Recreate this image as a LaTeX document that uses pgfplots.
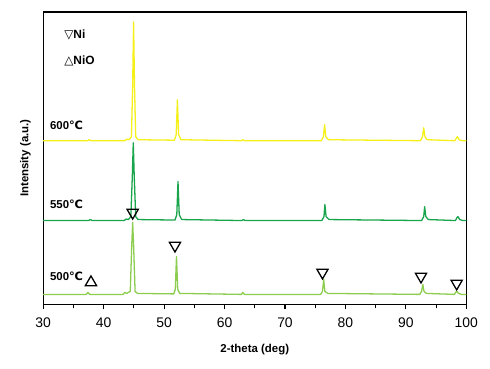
\documentclass[border=0pt]{standalone}
\usepackage{fontspec}
\setmainfont{Liberation Sans}
\newfontfamily\dejavu{DejaVu Sans}
\usepackage{pgfplots}
\pgfplotsset{compat=1.18}
\definecolor{c600}{RGB}{245,240,25}
\definecolor{c550}{RGB}{25,165,75}
\definecolor{c500}{RGB}{140,205,80}
\begin{document}
\begin{tikzpicture}
\path[use as bounding box] (-43.3bp,-64bp) rectangle (447.7bp,305bp);
\begin{axis}[
  scale only axis, width=424bp, height=293bp,
  xmin=30, xmax=100, ymin=0, ymax=293,
  xtick={30,40,...,100}, minor x tick num=1,
  ytick=\empty,
  xtick pos=bottom, tick align=outside,
  major tick length=5bp, minor tick length=4bp,
  every tick/.style={black, line width=1.2pt},
  axis line style={line width=1.3pt},
  /pgf/number format/assume math mode=true,
  ticklabel style={font=\fontsize{14}{16}\selectfont},
  xticklabel style={yshift=-5bp},
  xlabel={\bfseries 2-theta (deg)},
  ylabel={\bfseries Intensity (a.u.)},
  label style={font=\fontsize{11.5}{13}\selectfont},
  xlabel style={yshift=-10bp},
  ylabel style={yshift=4bp},
  clip=false,
]
\addplot[c600, line width=1.3pt, line join=round] coordinates {
(30,164) (37.3,164) (37.6,165) (37.9,164) (43.5,164) (43.8,165.5) (44.2,165) (44.6,168) (44.8,220) (44.95,283) (45.1,220) (45.3,168) (45.7,165) (51.7,164.5) (52.0,170) (52.2,205) (52.4,170) (52.8,165) (62.8,164) (63.0,165) (63.3,164) (76.0,164) (76.35,168) (76.55,180) (76.75,168) (77.2,165) (92.4,164) (92.75,168) (92.95,177) (93.15,168) (93.5,165) (98.1,164) (98.4,167) (98.55,168) (98.8,165) (99.3,164) (100,164)
};
\addplot[c550, line width=1.3pt, line join=round] coordinates {
(30,84) (37.5,84) (37.8,85) (38.1,84) (43.4,84) (43.7,85.5) (44.1,85) (44.5,88) (44.75,130) (44.9,162) (45.05,130) (45.3,88) (45.7,85) (51.8,84.5) (52.1,90) (52.3,123) (52.5,90) (52.9,85) (62.9,84) (63.1,85) (63.4,84) (76.1,84) (76.45,88) (76.6,100) (76.8,88) (77.3,85) (92.6,84) (92.95,88) (93.1,98) (93.3,88) (93.7,85) (98.2,84) (98.45,87) (98.6,88) (98.9,85) (99.4,84) (100,84)
};
\addplot[c500, line width=1.3pt, line join=round] coordinates {
(30,10) (37.1,10) (37.4,12) (37.7,10) (43.2,10) (43.5,12) (43.8,11) (44.4,13) (44.65,60) (44.8,82) (44.95,60) (45.2,13) (45.6,11) (51.6,10.5) (51.85,15) (52.05,48) (52.25,15) (52.6,11) (62.8,10) (63.0,12) (63.3,10) (75.9,10) (76.2,13) (76.4,25) (76.6,13) (77.1,11) (92.3,10) (92.6,13) (92.8,20) (93.0,13) (93.4,11) (98.0,10) (98.3,12.5) (98.45,13) (98.7,11) (99.2,10) (100,10)
};
\addplot[only marks, mark=triangle, mark size=6.5bp, mark options={black, line width=1.3pt, rotate=180}] coordinates {
(44.8,92) (51.8,59) (76.2,32) (92.5,28) (98.4,21)
};
\addplot[only marks, mark=triangle, mark size=6.5bp, mark options={black, line width=1.3pt}] coordinates {
(37.9,22)
};
\node[anchor=west, font=\fontsize{12}{14}\selectfont] at (axis cs:32.9,270) {{\dejavu ▽}\bfseries Ni};
\node[anchor=west, font=\fontsize{12}{14}\selectfont] at (axis cs:32.9,244) {{\dejavu △}\bfseries NiO};
\node[anchor=west, font=\fontsize{11.5}{13}\selectfont\bfseries, inner sep=0pt] at (axis cs:31.1,179) {600{\dejavu ℃}};
\node[anchor=west, font=\fontsize{11.5}{13}\selectfont\bfseries, inner sep=0pt] at (axis cs:31.1,100) {550{\dejavu ℃}};
\node[anchor=west, font=\fontsize{11.5}{13}\selectfont\bfseries, inner sep=0pt] at (axis cs:31.1,28) {500{\dejavu ℃}};
\end{axis}
\end{tikzpicture}
\end{document}
